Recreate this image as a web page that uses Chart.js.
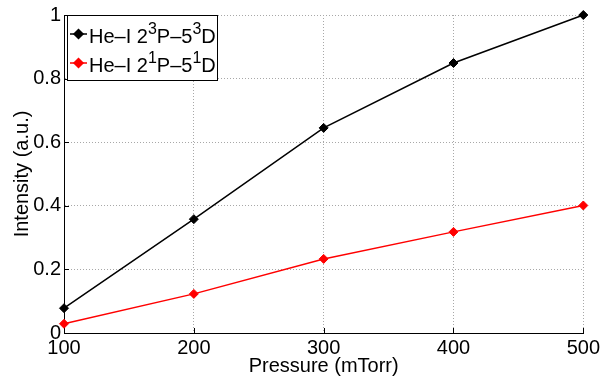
<!DOCTYPE html>
<html>
<head>
<meta charset="utf-8">
<script src="https://cdn.jsdelivr.net/npm/chart.js@4/dist/chart.umd.min.js"></script>
<style>
  html, body { margin: 0; padding: 0; background: #fff; }
  #wrap { width: 603px; height: 379px; }
</style>
</head>
<body>
<div id="wrap"><canvas id="chart"></canvas></div>
<script>
// pressure in mTorr
var pressure = [100, 200, 300, 400, 500];
var triplet = [0.078, 0.358, 0.645, 0.849, 1.0];   // He-I 2^3P-5^3D
var singlet = [0.029, 0.123, 0.233, 0.318, 0.401]; // He-I 2^1P-5^1D
var seriesNames = ['He\u2013I 2\u00B3P\u20135\u00B3D', 'He\u2013I 2\u00B9P\u20135\u00B9D'];
var xTicks = [100, 200, 300, 400, 500];
var yTicks = [0, 0.2, 0.4, 0.6, 0.8, 1];
var yTickLabels = ['0', '0.2', '0.4', '0.6', '0.8', '1'];

var FONT = 'Liberation Sans, Arial, Helvetica, sans-serif';
var FS = 20;
var SUP = { '\u00B9': '1', '\u00B2': '2', '\u00B3': '3' };

function pts(ys) { return pressure.map(function (p, i) { return { x: p, y: ys[i] }; }); }

// short inward tick marks like matlab
var innerTicks = {
  id: 'innerTicks',
  beforeDatasetsDraw: function (chart) {
    var c = chart.ctx, a = chart.chartArea;
    var xs = chart.scales.x, ys = chart.scales.y;
    c.save();
    c.strokeStyle = '#000';
    c.lineWidth = 1;
    c.beginPath();
    xTicks.forEach(function (v) {
      var px = Math.round(xs.getPixelForValue(v)) + 0.5;
      c.moveTo(px, a.bottom); c.lineTo(px, a.bottom - 5);
    });
    yTicks.forEach(function (v) {
      var py = Math.round(ys.getPixelForValue(v)) + 0.5;
      c.moveTo(a.left, py); c.lineTo(a.left + 5, py);
    });
    c.stroke();
    c.restore();
  }
};

// draws a string, rendering unicode superscript digits small and raised
function drawRich(c, str, x, y, size) {
  for (var i = 0; i < str.length; i++) {
    var ch = str[i];
    if (SUP[ch]) {
      c.font = Math.round(size * 0.78) + 'px ' + FONT;
      c.fillText(SUP[ch], x, y - size * 0.36);
      x += c.measureText(SUP[ch]).width;
    } else {
      c.font = size + 'px ' + FONT;
      c.fillText(ch, x, y);
      x += c.measureText(ch).width;
    }
  }
}

var boxLegend = {
  id: 'boxLegend',
  afterDraw: function (chart) {
    var c = chart.ctx, a = chart.chartArea;
    var left = a.left + 3, top = a.top, w = 150, h = 65;
    c.save();
    c.fillStyle = '#fff';
    c.fillRect(left, top, w, h);
    c.strokeStyle = '#000';
    c.lineWidth = 1;
    c.strokeRect(left + 0.5, top + 0.5, w, h);
    chart.data.datasets.forEach(function (ds, i) {
      var cy = top + 19 + i * 29;
      c.strokeStyle = ds.borderColor;
      c.lineWidth = 1.5;
      c.beginPath();
      c.moveTo(left + 3, cy); c.lineTo(left + 20, cy);
      c.stroke();
      Chart.helpers.drawPoint(c, { pointStyle: 'rectRot', radius: 4.5, borderWidth: 1 }, left + 11.5, cy);
      c.fillStyle = ds.borderColor;
      c.fill();
      c.fillStyle = '#000';
      c.textBaseline = 'middle';
      c.textAlign = 'left';
      drawRich(c, ds.label, left + 22, cy + 3, FS);
    });
    c.restore();
  }
};

var mkSet = function (label, data, color) {
  return {
    label: label,
    data: pts(data),
    borderColor: color,
    backgroundColor: color,
    borderWidth: 1.5,
    pointStyle: 'rectRot',
    pointRadius: 4.5,
    pointBorderWidth: 1,
    clip: false,
    tension: 0
  };
};

new Chart(document.getElementById('chart'), {
  type: 'line',
  data: {
    datasets: [
      mkSet(seriesNames[0], triplet, '#000000'),
      mkSet(seriesNames[1], singlet, '#ff0000')
    ]
  },
  options: {
    responsive: true,
    maintainAspectRatio: false,
    animation: false,
    layout: { padding: { top: 15, right: 17, left: 0, bottom: 0 } },
    plugins: { legend: { display: false }, tooltip: { enabled: false } },
    scales: {
      x: {
        type: 'linear',
        min: 100, max: 500,
        afterBuildTicks: function (s) { s.ticks = xTicks.map(function (v) { return { value: v }; }); },
        afterFit: function (s) { s.height = 46; },
        grid: { color: '#a8a8a8', drawTicks: false, lineWidth: 1 },
        border: { color: '#000', width: 1, dash: [1, 2] },
        ticks: { padding: 3, color: '#000', font: { family: FONT, size: FS }, maxRotation: 0 },
        title: { display: true, text: 'Pressure (mTorr)', color: '#000', font: { family: FONT, size: FS }, padding: { top: 0, bottom: 1 } }
      },
      y: {
        min: 0, max: 1,
        afterBuildTicks: function (s) { s.ticks = yTicks.map(function (v) { return { value: v }; }); },
        afterFit: function (s) { s.width = 64; },
        grid: { color: '#a8a8a8', drawTicks: false, lineWidth: 1 },
        border: { color: '#000', width: 1, dash: [1, 2] },
        ticks: {
          padding: 3, color: '#000', font: { family: FONT, size: FS },
          callback: function (v) { var k = yTicks.indexOf(v); return k >= 0 ? yTickLabels[k] : ''; }
        },
        title: { display: true, text: 'Intensity (a.u.)', color: '#000', font: { family: FONT, size: FS }, padding: { top: 10, bottom: 0 } }
      }
    }
  },
  plugins: [innerTicks, boxLegend]
});
</script>
</body>
</html>
